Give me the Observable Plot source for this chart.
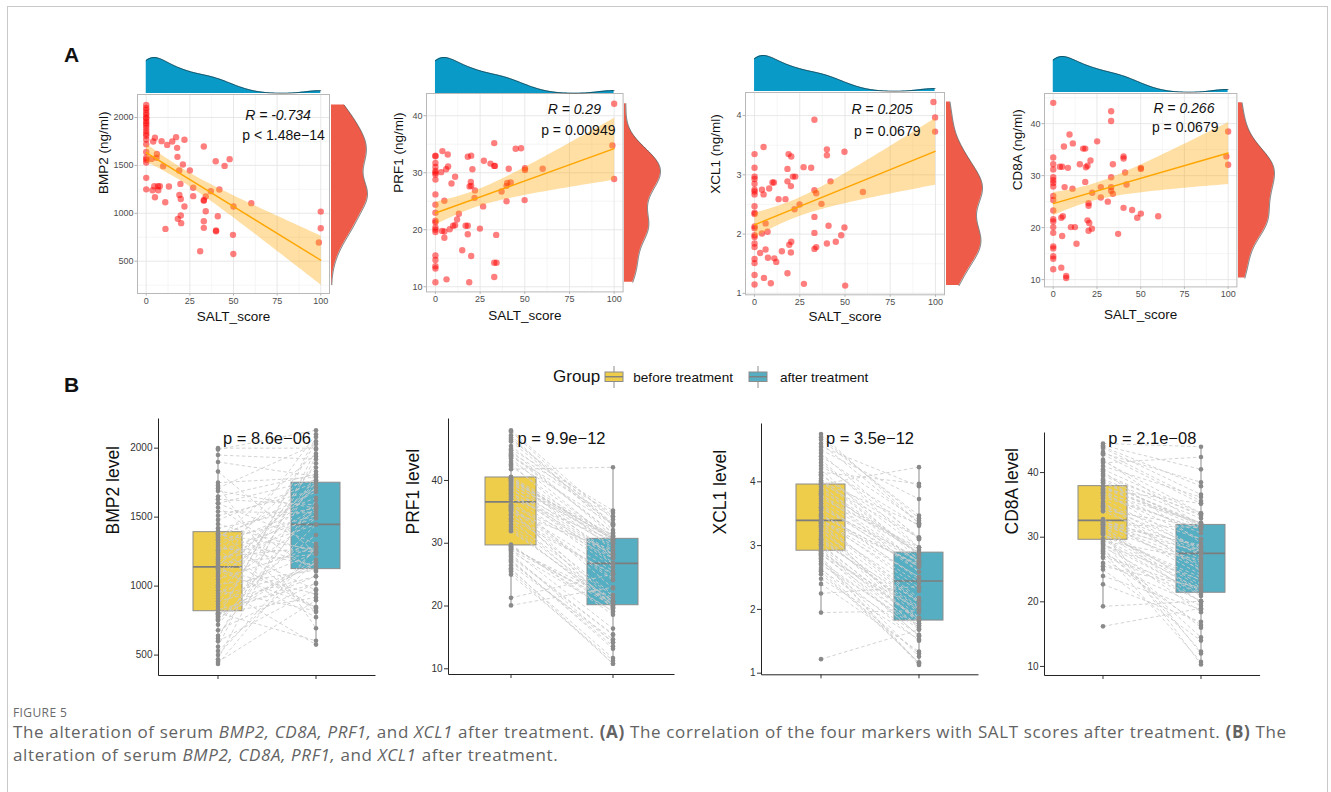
<!DOCTYPE html>
<html>
<head>
<meta charset="utf-8">
<script src="https://cdn.jsdelivr.net/npm/d3@7"></script>
<script src="https://cdn.jsdelivr.net/npm/@observablehq/plot@0.6"></script>
<style>
  body { margin: 0; background: #fff; }
  #fig { position: relative; width: 1331px; height: 792px; overflow: hidden; background: #fff;
         font-family: "Liberation Sans", Arial, Helvetica, sans-serif; }
  .border { position: absolute; left: 7px; top: 6px; width: 1321px; height: 820px; border: 1px solid #c9c9c9; box-sizing: border-box; }
  .letter { position: absolute; font-weight: bold; font-size: 21px; color: #111; line-height: 1; }
  .apanel [aria-label="x-axis tick"], .apanel [aria-label="y-axis tick"] { stroke: #b3b3b3; }
  .apanel g.tick line { stroke: #b3b3b3; }
  .legend { position: absolute; top: 366px; height: 22px; display: flex; align-items: center; color: #111; white-space: nowrap; }
  .caption { position: absolute; left: 13px; color: #636363; font-family: "Open Sans", "Noto Sans", sans-serif; white-space: nowrap; }
</style>
</head>
<body>
<div id="fig">
  <div class="border"></div>
  <div class="letter" style="left:64px;top:44px;">A</div>
  <div class="letter" style="left:64px;top:374px;">B</div>
  <div class="legend" style="left:553px;">
    <span style="font-size:17px;">Group</span>
    <svg width="20" height="22" style="margin-left:4px;"><line x1="10" x2="10" y1="0" y2="22" stroke="#8c8c8c"/><rect x="1" y="6" width="18" height="9.5" fill="#eecd4b" stroke="#8c8c8c"/><line x1="1" x2="19" y1="10.75" y2="10.75" stroke="#7f7f7f" stroke-width="1.4"/></svg>
    <span style="font-size:13.6px;margin-left:9px;">before treatment</span>
    <svg width="20" height="22" style="margin-left:15px;"><line x1="10" x2="10" y1="0" y2="22" stroke="#8c8c8c"/><rect x="1" y="6" width="18" height="9.5" fill="#56aec3" stroke="#8c8c8c"/><line x1="1" x2="19" y1="10.75" y2="10.75" stroke="#7f7f7f" stroke-width="1.4"/></svg>
    <span style="font-size:13.6px;margin-left:12px;">after treatment</span>
  </div>
  <div class="caption" style="top:704px;font-size:12px;letter-spacing:0.4px;color:#6a6a6a;">FIGURE 5</div>
  <div class="caption" style="top:720px;font-size:17px;letter-spacing:0.64px;line-height:23px;">
    The alteration of serum <i>BMP2, CD8A, PRF1,</i> and <i>XCL1</i> after treatment. <b>(A)</b> The correlation of the four markers with SALT scores after treatment. <b>(B)</b> The<br>
    alteration of serum <i>BMP2, CD8A, PRF1,</i> and <i>XCL1</i> after treatment.
  </div>
</div>
<script>
// ---------------- DATA ----------------
const groups = ["before treatment", "after treatment"];
const saltTicks = [0, 25, 50, 75, 100];
const saltMinorTicks = [12.5, 37.5, 62.5, 87.5];

// BMP2: SALT score and serum level after treatment (panel A), and level before treatment (panel B)
const bmp2Salt = [0,0,0,0,0,0,0,0,0,0,0,0,0,0,0,0,0,0,0,0,0,0,
  5,4,6.1,5.9,3,4.6,6.7,7.8,3.6,6.9, 5,8.8,12,14.9,17.1,17.7,21.9,17.9,9.7,18.9,
  21,25,13,10.9,19.6,19,19.8,21.9,19.8,18.1, 20,11,26.9,26.9,33,39.8,44.9,47.8,34.1,33,
  33,37,41.9,34.1,41,33,33,40,40,50, 49.7,30.9,49.9,60.2,100,100,98.9];
const bmp2After = [2130,2100,2080,2050,2030,2000,1990,1960,1940,1920,1890,1860,1830,1810,1770,1720,1640,1580,1560,1530,1370,1250,
  1788,1749,1620,1579,1568,1283,1283,1283,1241,1241, 1168,1753,1714,1750,1795,1683,1767,1589,1492,1447,
  1509,1447,1280,1116,1307,1192,1150,1071,977,942, 897,837,1266,1179,1697,1544,1495,1565,1175,1140,
  1130,1231,1248,1022,970,917,848,820,813,1071, 775,604,576,1106,1018,844,695];
const bmp2Before = [1990,1130,760,780,1710,2000,560,1340,620,1950,910,1240,470,1650,1600,1030,1365,720,1180,1540,850,1270,
  1750,1095,640,1300,1420,1050,500,1210,950,1830, 800,1480,1150,870,1900,1355,1070,1630,990,750,
  1330,1195,435,1010,1600,790,1285,890,600,1120, 450,1225,1375,530,1510,1080,1255,1690,770,1382,
  930,1165,1450,680,1315,805,1110,970,1400,795, 1140,806,1000,1570,830,1260,1730];

// PRF1
const prf1Salt = [0,0,0,0,0,0,0,0,0,0,0,0,0,0,0,0,0,0,0,0,0,
  3.9,6.9,3.2,6,7.1,9,11,5,3.7,5, 5,6.2,8,9.9,11,12.1,13.1,15,18.1,20,
  20.7,19.8,19.1,20,22.1,21.9,16.9,18.1,18.1,20, 18.9,24.9,27.1,26.7,30.8,32.9,33.3,32.9,34,32.9,
  34.2,32.9,37,39.8,40.2,42.1,39.8,41,44.9,47.9, 50.1,50.1,49.9,60,100,99,100];
const prf1After = [33.0,32.9,31.7,31.0,30.3,30.0,29.7,28.8,26.2,24.4,23.0,21.6,21.3,20.4,20.0,19.6,15.5,14.7,13.6,13.2,10.8,
  33.8,33.2,30.1,30.6,31.1,28.1,29.3,25.1,19.8,19.7, 18.6,11.3,20.1,20.7,20.8,21.8,22.8,16.4,32.8,33.0,
  30.6,28.4,27.6,27.7,26.9,25.6,20.7,20.7,19.2,15.4, 10.8,20.2,32.1,24.1,31.6,31.2,31.2,35.2,19.1,14.2,
  14.2,11.7,26.7,27.7,28.2,28.3,25.0,30.7,34.2,34.3, 30.8,30.5,25.2,30.7,42.1,34.8,28.9];
const prf1Before = [45.5,47.8,44.2,39.4,43.5,40.2,38.5,42.6,37.5,35.8,20.1,33.5,29.2,29.4,29.5,34.0,28.0,26.5,27.2,27.4,25.5,
  48.0,46.2,39.6,40.3,44.8,38.0,39.8,21.3,35.4,32.6, 29.8,25.0,35.2,35.9,31.9,34.6,37.0,29.0,46.8,43.0,
  40.4,39.2,36.0,40.5,38.8,35.6,33.0,28.9,28.6,27.8, 26.0,32.2,47.2,35.5,44.0,40.6,39.9,45.0,29.6,28.3,
  27.0,25.8,38.2,37.8,38.6,36.2,34.4,42.3,43.8,46.5, 40.0,37.2,33.8,39.0,41.8,44.4,35.0];

// XCL1
const xcl1Salt = [0,0,0,0,0,0,0,0,0,0,0,0,0,0,0,0,0,0,0,0,0,
  5,4.1,5,8.1,9.9,10.7,6.1,4.1,7.2,3.1, 6.1,7.4,10.9,12,5.2,9,13.3,15.1,17.1,18.2,
  18.8,20.3,18.2,20.1,21.2,22.5,22.1,19.2,20.3,20.1, 18.2,24.9,27.1,31.3,33.1,33.1,34.1,33.1,33.1,33.1,
  34.1,27.3,37,40,40,42,40.9,40,44.9,47.9, 49.7,49.7,50.1,59.9,98.9,99.8,99.8];
const xcl1After = [3.35,3.12,2.97,2.93,2.85,2.75,2.72,2.67,2.47,2.36,2.34,2.13,2.10,1.98,1.95,1.84,1.78,1.58,1.51,1.31,1.15,
  3.47,2.75,2.67,2.77,2.87,2.87,2.18,2.01,2.04,1.68, 1.74,1.60,1.59,1.53,1.26,1.17,2.59,1.71,2.59,3.10,
  3.35,3.31,2.89,2.81,2.97,2.97,2.42,1.82,1.87,1.69, 1.34,2.50,3.13,3.12,3.93,2.74,2.69,2.29,2.02,1.75,
  1.78,1.16,2.51,3.43,3.33,2.89,2.14,1.84,1.87,1.98, 3.39,2.11,1.13,2.71,4.23,3.97,3.73];
const xcl1Before = [4.60,4.10,4.35,3.85,4.02,3.70,3.95,3.60,3.55,2.25,3.42,3.05,3.22,1.95,3.12,2.90,3.30,2.95,2.72,2.55,2.80,
  4.66,3.78,3.48,4.20,3.88,4.05,3.35,2.85,3.15,1.22, 2.70,2.62,2.88,2.48,2.82,2.60,3.66,2.98,3.82,4.45,
  4.75,4.25,3.92,3.58,4.12,3.74,3.38,3.02,3.25,2.75, 2.40,3.50,4.30,3.98,4.55,3.62,3.46,3.28,3.08,2.86,
  3.18,2.65,3.40,4.70,4.00,3.80,3.36,3.00,2.91,3.10, 4.40,3.32,2.78,3.39,3.96,4.15,4.50];

// CD8A
const cd8aSalt = [0,0,0,0,0,0,0,0,0,0,0,0,0,0,0,0,0,0,0,0,
  3.8,5.1,6.1,8.4,9.3,11.2,6.5,11,4.6,5.5, 5.1,10.1,12.4,13.3,4.6,7.4,7.4,15.2,17.1,18.3,
  18.7,19.6,21.3,18.3,22.3,19.6,20.6,20.2,22.1,20.2, 20.2,25.1,27.2,27.2,31.2,33.1,33.1,34.1,33.1,33.1,
  33.1,34.1,37.1,40.2,40.2,41.1,41.9,40.2,45.1,48, 50.1,50.1,50.1,60,100,99,100];
const cd8aAfter = [44.0,33.5,32.2,31.2,29.7,29.1,28.6,27.9,26.1,25.3,23.3,21.6,21.2,20.1,19.0,16.4,16.0,14.5,14.0,12.0,
  31.7,31.7,35.6,31.5,37.9,36.2,27.8,27.5,21.9,22.2, 18.4,20.1,20.1,16.9,12.3,10.7,10.3,32.2,35.2,35.2,
  31.6,31.9,32.9,28.8,26.7,21.4,20.9,19.4,19.8,24.7, 24.2,36.6,27.8,25.8,25.0,42.4,40.5,32.2,29.7,27.8,
  27.1,26.5,18.8,33.7,33.3,30.6,28.3,23.8,23.4,21.9, 22.7,31.5,31.3,22.2,38.5,33.7,32.1];
const cd8aBefore = [44.5,39.5,36.9,36.5,35.0,40.2,32.3,37.0,32.0,34.6,30.5,31.2,29.0,27.5,16.2,26.8,28.0,28.2,25.0,31.0,
  42.0,38.8,43.2,32.0,44.0,41.0,36.0,32.8,29.8,31.5, 29.1,19.3,28.5,22.7,29.3,27.8,30.8,37.5,37.4,42.8,
  34.2,37.9,39.0,31.9,32.4,30.6,29.6,26.0,31.8,35.5, 32.6,43.8,34.0,31.4,32.2,41.5,44.2,38.5,36.8,31.6,
  35.2,29.4,24.0,40.5,39.8,37.2,34.8,30.4,28.8,27.0, 30.9,37.8,36.2,25.5,43.0,41.8,38.4];

// Statistics text, as printed on the figure
const corLabels = [
  ["R = -0.734", "p < 1.48e\u221214"],
  ["R = 0.29", "p = 0.00949"],
  ["R = 0.205", "p = 0.0679"],
  ["R = 0.266", "p = 0.0679"]
];
const pairedP = ["p = 8.6e\u221206", "p = 9.9e\u221212", "p = 3.5e\u221212", "p = 2.1e\u221208"];
const markers = ["BMP2", "PRF1", "XCL1", "CD8A"];

// ---------------- LAYOUT (pixel geometry) ----------------
const FONT = '"Liberation Sans", Arial, Helvetica, sans-serif';
const COL = {
  point: "#ff0000", fit: "#ffa500", top: "#0a9ac8", right: "#ee5b49",
  before: "#eecd4b", after: "#56aec3"
};
const aLayout = [
  {frame: [137, 329, 94, 293], yDomain: [163, 2240], yTicks: [500,1000,1500,2000], yMinor: [250,750,1250,1750],
   yLab: 34, xLab: 27, topBase: 92.7, rightBase: 331, ann: [[140.5, 16], [146, 36]]},
  {frame: [425.7, 622.3, 93.3, 291.7], yDomain: [9.1, 43.9], yTicks: [10,20,30,40], yMinor: [15,25,35],
   yLab: 28, xLab: 28, topBase: 92.7, rightBase: 624.3, ann: [[147.8, 10.7], [151.8, 32]]},
  {frame: [745.3, 944.3, 91.7, 294], yDomain: [0.975, 4.39], yTicks: [1,2,3,4], yMinor: [1.5,2.5,3.5],
   yLab: 30, xLab: 26, topBase: 90.7, rightBase: 946, ann: [[136.4, 11.6], [141.7, 33.3]]},
  {frame: [1044.3, 1236.7, 93.3, 286.7], yDomain: [8.6, 45.8], yTicks: [10,20,30,40], yMinor: [15,25,35,45],
   yLab: 27, xLab: 32.6, topBase: 91.7, rightBase: 1238.3, ann: [[139.4, 9.4], [140.7, 28.4]]}
];
const bLayout = [
  {axisX: 157.7, len: 217, top: 418, bottom: 675, yDomain: [352, 2215], yTicks: [500,1000,1500,2000], yLab: 44.7},
  {axisX: 448.3, len: 226, top: 418, bottom: 674, yDomain: [9.09, 49.87], yTicks: [10,20,30,40], yLab: 35.3},
  {axisX: 761, len: 217, top: 423, bottom: 674.3, yDomain: [0.975, 4.914], yTicks: [1,2,3,4], yLab: 41},
  {axisX: 1044.3, len: 215.6, top: 432, bottom: 675, yDomain: [8.6, 46.2], yTicks: [10,20,30,40], yLab: 32.6}
];
const P_TEXT_Y = 432, B_LABEL_Y = 534;
const plainTick = d => String(d);

const fig = document.getElementById("fig");
function place(el, left, top) {
  el.style.position = "absolute";
  el.style.left = left + "px";
  el.style.top = top + "px";
  fig.appendChild(el);
  return el;
}

// Gaussian kernel density (R's bw.nrd0), evaluated over [lo, hi]
function kde(values, lo, hi, n = 256) {
  const sd = d3.deviation(values);
  const iqr = d3.quantile(values, 0.75) - d3.quantile(values, 0.25);
  const h = 0.9 * Math.min(sd, iqr / 1.34) * Math.pow(values.length, -0.2);
  const out = [];
  for (let i = 0; i < n; i++) {
    const t = lo + (hi - lo) * i / (n - 1);
    let s = 0;
    for (const v of values) { const u = (t - v) / h; s += Math.exp(-0.5 * u * u); }
    out.push({t, d: s / (values.length * h * Math.sqrt(2 * Math.PI))});
  }
  return out;
}
// extent of the fitted 95% band at the ends of x (so the marginal matches the panel's trained range)
function bandExtent(xs, ys) {
  const n = xs.length, mx = d3.mean(xs), my = d3.mean(ys);
  let sxx = 0, sxy = 0;
  for (let i = 0; i < n; i++) { sxx += (xs[i] - mx) ** 2; sxy += (xs[i] - mx) * (ys[i] - my); }
  const b = sxy / sxx, a = my - b * mx;
  let sse = 0;
  for (let i = 0; i < n; i++) sse += (ys[i] - a - b * xs[i]) ** 2;
  const s = Math.sqrt(sse / (n - 2)), t = 1.99;
  const ext = [];
  for (const x of d3.extent(xs)) {
    const yh = a + b * x, se = s * Math.sqrt(1 / n + (x - mx) ** 2 / sxx);
    ext.push(yh - t * se, yh + t * se);
  }
  return d3.extent(ext);
}

const aSalt = [bmp2Salt, prf1Salt, xcl1Salt, cd8aSalt];
const aVals = [bmp2After, prf1After, xcl1After, cd8aAfter];
const bBefore = [bmp2Before, prf1Before, xcl1Before, cd8aBefore];

// ---------------- PANEL A ----------------
aLayout.forEach((L, k) => {
  const salt = aSalt[k], vals = aVals[k];
  const data = salt.map((s, i) => ({s, v: vals[i]}));
  const [fl, fr, ft, fb] = L.frame;
  const fw = fr - fl, fh = fb - ft;
  const mL = 50, mR = 2, mT = 5, mB = 42;
  const inY = v => v >= L.yDomain[0] && v <= L.yDomain[1];

  const sc = Plot.plot({
    width: mL + fw + mR, height: mT + fh + mB,
    marginLeft: mL, marginRight: mR, marginTop: mT, marginBottom: mB,
    style: {background: "transparent", overflow: "visible", fontFamily: FONT, fontSize: "9px", color: "#4d4d4d"},
    x: {domain: [-5, 105], ticks: saltTicks, tickSize: 2.5, tickPadding: 1.5, tickFormat: plainTick, label: null},
    y: {domain: L.yDomain, ticks: L.yTicks, tickSize: 2.5, tickPadding: 1.5, tickFormat: plainTick, label: null},
    marks: [
      Plot.ruleX(saltMinorTicks, {stroke: "#f0f0f0", strokeWidth: 0.6}),
      Plot.ruleY(L.yMinor.filter(inY), {stroke: "#f0f0f0", strokeWidth: 0.6}),
      Plot.ruleX(saltTicks, {stroke: "#e2e2e2", strokeWidth: 0.8}),
      Plot.ruleY(L.yTicks, {stroke: "#e2e2e2", strokeWidth: 0.8}),
      Plot.frame({stroke: "#b8b8b8", strokeWidth: 1}),
      Plot.dot(data, {x: "s", y: "v", r: 3.2, fill: COL.point, fillOpacity: 0.5}),
      Plot.linearRegressionY(data, {x: "s", y: "v", stroke: COL.fit, strokeWidth: 1.4, fill: COL.fit, fillOpacity: 0.36}),
      Plot.text([markers[k] + " (ng/ml)"], {frameAnchor: "left", dx: -L.yLab, rotate: -90, fontSize: 13.5, fill: "#111"}),
      Plot.text(["SALT_score"], {frameAnchor: "bottom", dy: L.xLab, fontSize: 13.5, fill: "#111"}),
      Plot.text([corLabels[k][0]], {frameAnchor: "top-left", textAnchor: "middle", dx: L.ann[0][0], dy: L.ann[0][1],
        fontSize: 14, fontStyle: "italic", fill: "#111"}),
      Plot.text([corLabels[k][1]], {frameAnchor: "top-left", textAnchor: "middle", dx: L.ann[1][0], dy: L.ann[1][1],
        fontSize: 14, fill: "#111"})
    ]
  });
  sc.classList.add("apanel");
  place(sc, fl - mL, ft - mT);

  // top marginal density of SALT score
  const dx = kde(salt, d3.min(salt), d3.max(salt));
  const top = Plot.plot({
    width: mL + fw + mR, height: 40, marginLeft: mL, marginRight: mR, marginTop: 4, marginBottom: 0,
    style: {background: "transparent", overflow: "visible"},
    x: {domain: [-5, 105], axis: null}, y: {domain: [0, d3.max(dx, d => d.d)], axis: null},
    marks: [
      Plot.areaY(dx, {x: "t", y: "d", fill: COL.top}),
      Plot.lineY(dx, {x: "t", y: "d", stroke: "#1b1b1b", strokeWidth: 0.6})
    ]
  });
  place(top, fl - mL, L.topBase - 40);

  // right marginal density of the marker
  const be = bandExtent(salt, vals);
  const lo = Math.min(d3.min(vals), be[0]), hi = Math.max(d3.max(vals), be[1]);
  const dy = kde(vals, Math.max(lo, L.yDomain[0]), Math.min(hi, L.yDomain[1]));
  const right = Plot.plot({
    width: 1 + 36 + 3, height: mT + fh + mB, marginLeft: 1, marginRight: 3, marginTop: mT, marginBottom: mB,
    style: {background: "transparent", overflow: "visible"},
    x: {domain: [0, d3.max(dy, d => d.d)], axis: null}, y: {domain: L.yDomain, axis: null},
    marks: [
      Plot.areaX(dy, {y: "t", x: "d", fill: COL.right}),
      Plot.lineX(dy, {y: "t", x: "d", stroke: "#1b1b1b", strokeWidth: 0.6})
    ]
  });
  place(right, L.rightBase - 1, ft - mT);
});

// ---------------- PANEL B ----------------
bLayout.forEach((L, k) => {
  const before = bBefore[k], after = aVals[k];
  const pairs = before.map((b, i) => ({b, a: after[i]}));
  const long = before.map(v => ({g: groups[0], v})).concat(after.map(v => ({g: groups[1], v})));
  const stats = [before, after].map((vals, j) => {
    const vs = vals.slice().sort(d3.ascending);
    const q1 = d3.quantileSorted(vs, 0.25), med = d3.quantileSorted(vs, 0.5), q3 = d3.quantileSorted(vs, 0.75);
    const iqr = q3 - q1;
    return {g: groups[j], q1, med, q3,
      lo: d3.min(vs.filter(v => v >= q1 - 1.5 * iqr)), hi: d3.max(vs.filter(v => v <= q3 + 1.5 * iqr))};
  });
  const fw = L.len, fh = L.bottom - L.top;
  const mL = 62, mR = 6, mT = 22, mB = 16;
  const p = Plot.plot({
    width: mL + fw + mR, height: mT + fh + mB,
    marginLeft: mL, marginRight: mR, marginTop: mT, marginBottom: mB,
    style: {background: "transparent", overflow: "visible", fontFamily: FONT, fontSize: "10px", color: "#333"},
    x: {type: "band", domain: groups, paddingInner: 0.5, paddingOuter: 0.35, align: 0.5,
        tickSize: 4, tickFormat: () => "", label: null},
    y: {domain: L.yDomain, ticks: L.yTicks, tickSize: 4, tickPadding: 2, tickFormat: plainTick, label: null},
    color: {domain: groups, range: [COL.before, COL.after]},
    marks: [
      Plot.frame({stroke: "#222", strokeWidth: 1, strokeDasharray: `0,${fw + fh},${fw + fh + 2}`}),
      Plot.ruleX(stats, {x: "g", y1: "lo", y2: "hi", stroke: "#8c8c8c", strokeWidth: 1}),
      Plot.barY(stats, {x: "g", y1: "q1", y2: "q3", fill: "g", stroke: "#8c8c8c", strokeWidth: 1}),
      Plot.tickY(stats, {x: "g", y: "med", stroke: "#7d7d7d", strokeWidth: 1.7}),
      Plot.link(pairs, {x1: () => groups[0], x2: () => groups[1], y1: "b", y2: "a",
        stroke: "#cbcbcb", strokeWidth: 0.85, strokeDasharray: "3.5,2.5"}),
      Plot.dot(long, {x: "g", y: "v", r: 2.3, fill: "#8a8a8a"}),
      Plot.text([pairedP[k]], {frameAnchor: "top", dy: P_TEXT_Y - L.top, fontSize: 16.5, fill: "#111"}),
      Plot.text([markers[k] + " level"], {frameAnchor: "left", dx: -L.yLab, dy: B_LABEL_Y - (L.top + L.bottom) / 2,
        rotate: -90, fontSize: 17.5, fill: "#111"})
    ]
  });
  place(p, L.axisX - mL, L.top - mT);
});
</script>
</body>
</html>
